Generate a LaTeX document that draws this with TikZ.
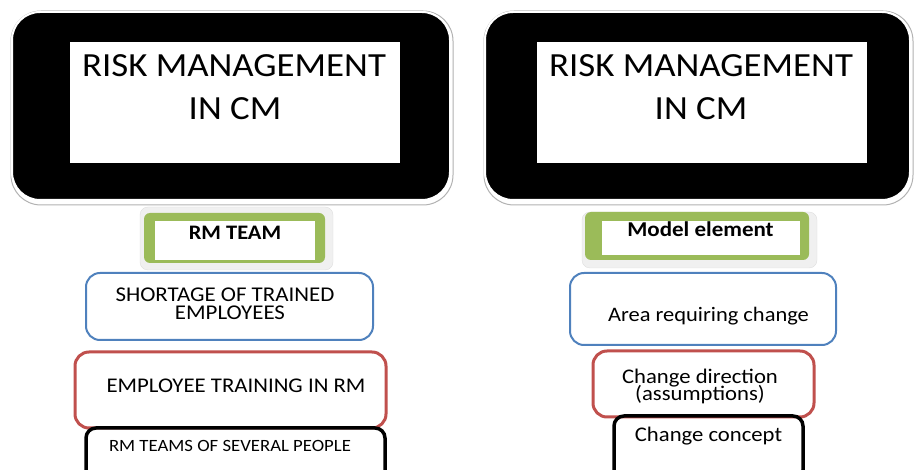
\documentclass[tikz,border=0pt]{standalone}
\usepackage{fontspec}
\setmainfont[FakeStretch=1.09]{Carlito}
\definecolor{ogreen}{HTML}{9BBB59}
\definecolor{oblue}{HTML}{4F81BD}
\definecolor{ored}{HTML}{C0504D}
\begin{document}
\begin{tikzpicture}[x=1pt,y=-1pt,
  bigbox/.style={fill=black,draw=white,line width=2pt,rounded corners=28pt,minimum width=#1,minimum height=188pt,inner sep=0pt},
  bigshadow/.style={draw=gray!60,line width=1pt,rounded corners=30pt,fill=white,minimum width=#1,minimum height=194pt,inner sep=0pt},
  whitein/.style={fill=white,minimum width=330pt,minimum height=121pt,inner sep=0pt},
  greenout/.style={fill=ogreen,rounded corners=6pt,inner sep=0pt},
  greenshadow/.style={fill=gray!12,draw=gray!25,rounded corners=8pt,inner sep=0pt},
  bluebox/.style={draw=oblue,line width=2pt,rounded corners=14pt,inner sep=0pt},
  redbox/.style={draw=ored,line width=3pt,rounded corners=14pt,inner sep=0pt},
  blackbox/.style={draw=black,line width=3.5pt,rounded corners=10pt,inner sep=0pt},
  txt/.style={font=\fontsize{#1}{#1}\selectfont,inner sep=0pt,anchor=base},
  btxt/.style={font=\bfseries\fontsize{#1}{#1}\selectfont,inner sep=0pt,anchor=base},
]
\useasboundingbox (0,0) rectangle (914,470);
\clip (0,0) rectangle (914,470);
% left column
\node[bigshadow=442pt] (lsh) at (232,108) {};
\node[bigbox=438pt] (lbig) at (231,106) {};
\node[whitein] (lin) at (235,102.5) {};
\node[txt=33.8] (ltitle1) at (234,77) {RISK MANAGEMENT};
\node[txt=33.8] (ltitle2) at (235,120) {IN CM};
\node[greenshadow,minimum width=193pt,minimum height=63pt] (lgs) at (236.5,238.5) {};
\node[greenout,minimum width=181pt,minimum height=50pt] (lgo) at (234.5,238) {};
\node[fill=white,minimum width=160pt,minimum height=39pt,inner sep=0pt] (lgi) at (235,240.5) {};
\node[btxt=20.6] (lgt) at (235,240) {RM TEAM};
\node[bluebox,minimum width=287pt,minimum height=67pt] (lb) at (229.5,306.5) {};
\node[txt=21] (lbt1) at (225,301.5) {SHORTAGE OF TRAINED};
\node[txt=21] (lbt2) at (230,319.5) {EMPLOYEES};
\node[redbox,minimum width=311pt,minimum height=76pt] (lr) at (230.5,390) {};
\node[txt=20.9] (lrt) at (236,393) {EMPLOYEE TRAINING IN RM};
\node[blackbox,minimum width=299pt,minimum height=60pt] (lk) at (235.5,458) {};
\node[txt=17.2] (lkt) at (230,452) {RM TEAMS OF SEVERAL PEOPLE};
% right column
\node[bigshadow=429pt] (rsh) at (698.5,108) {};
\node[bigbox=425pt] (rbig) at (697.5,106) {};
\node[whitein] (rin) at (702,102.5) {};
\node[txt=33.8] (rtitle1) at (701,77) {RISK MANAGEMENT};
\node[txt=33.8] (rtitle2) at (701,120) {IN CM};
\node[greenshadow,minimum width=235pt,minimum height=56pt] (rgs) at (699.5,240) {};
\node[greenout,minimum width=224pt,minimum height=48pt] (rgo) at (697,236) {};
\node[fill=white,minimum width=198pt,minimum height=34pt,inner sep=0pt] (rgi) at (701,238) {};
\node[btxt=21.1] (rgt) at (700.5,237) {Model element};
\node[bluebox,minimum width=266pt,minimum height=72pt] (rb) at (703,309) {};
\node[txt=20.6] (rbt) at (708.5,321.5) {Area requiring change};
\node[redbox,minimum width=221pt,minimum height=66pt] (rr) at (703.5,384) {};
\node[txt=20.8] (rrt1) at (700,383.5) {Change direction};
\node[txt=20.8] (rrt2) at (700,401) {(assumptions)};
\node[blackbox,minimum width=189pt,minimum height=64pt] (rk) at (708.5,448) {};
\node[txt=20.8] (rkt) at (708.5,441.5) {Change concept};
\end{tikzpicture}
\end{document}
